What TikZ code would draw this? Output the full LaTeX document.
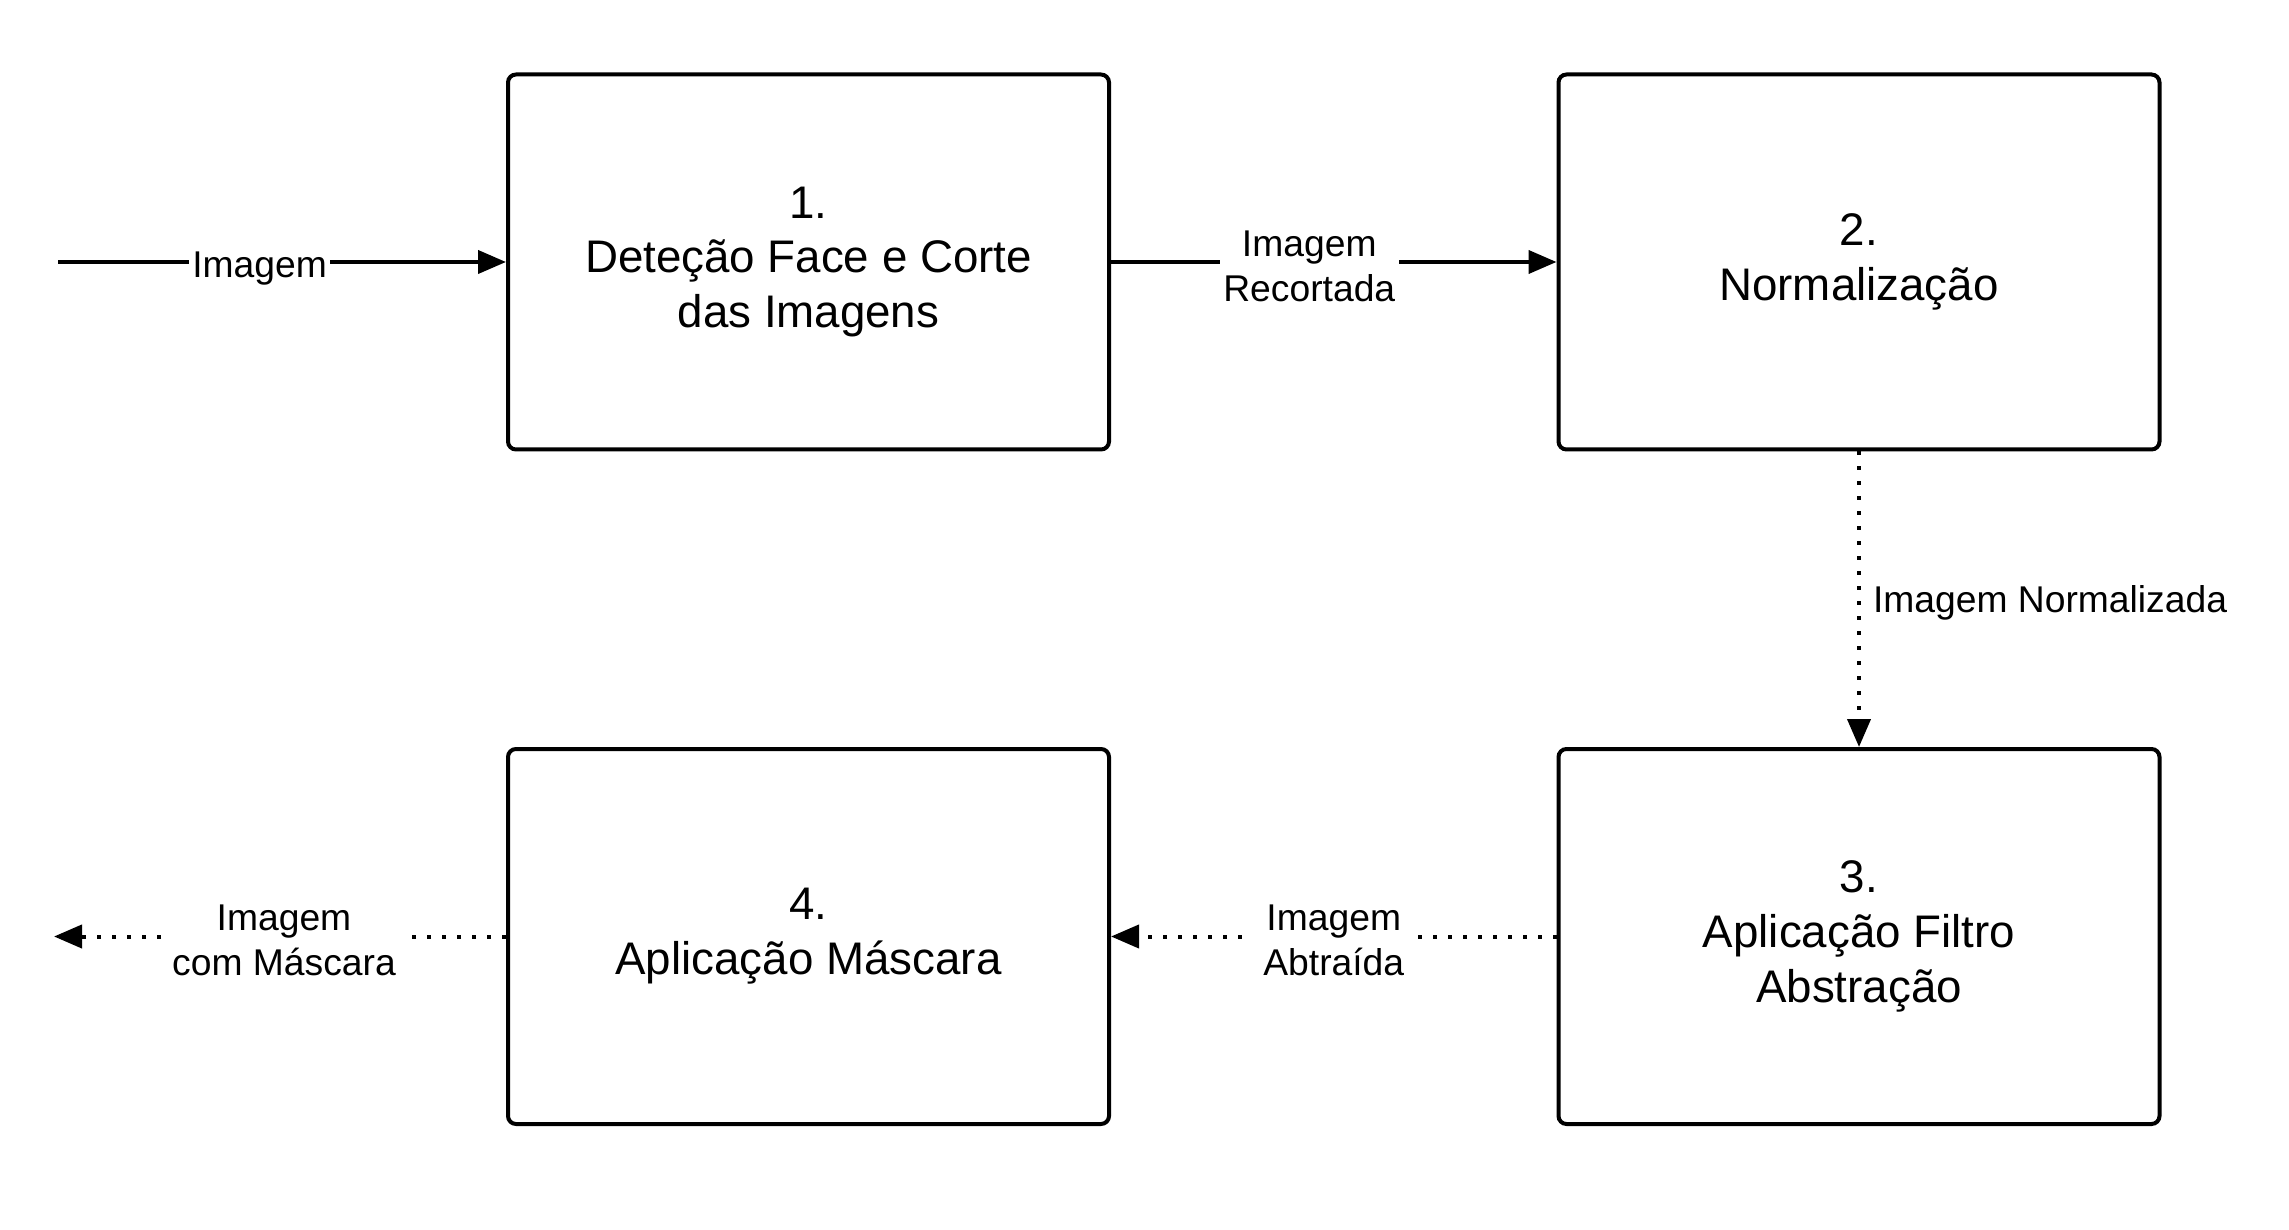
\documentclass[tikz,border=0pt]{standalone}
\usepackage{fontspec}
\setmainfont{Liberation Sans}
\usetikzlibrary{arrows.meta}

\begin{document}
\begin{tikzpicture}[>={Triangle[length=0.28cm,width=0.23cm]}]
	\useasboundingbox (0,0) rectangle (22.89,12.29);
	\begin{scope}[every node/.style={rectangle,rounded corners=0.08cm,draw,line width=0.04cm,minimum width=6.01cm,minimum height=3.75cm,align=center,font=\fontsize{13}{15.6}\selectfont}]
		\node (A) at (8.085,9.67) {1.\\Deteção Face e Corte\\das Imagens};
		\node (B) at (18.59,9.67) {2.\\Normalização};
		\node (C) at (18.59,2.925) {3.\\Aplicação Filtro\\Abstração};
		\node (D) at (8.085,2.925) {4.\\Aplicação Máscara};
	\end{scope}
	
	\coordinate (I) at (0.58,9.67);
	\coordinate (O) at (0.54,2.925);
	
	\begin{scope}[every edge/.style={draw=black,line width=0.04cm},
		every node/.style={fill=white,inner sep=1pt,align=center,yshift=-0.04cm,font=\fontsize{10.6}{12.8}\selectfont},
		pontos/.style={dash pattern=on 0.04cm off 0.11cm}]
		\path [->] (I) edge node [pos=0.45,yshift=-0.03cm] {Imagem} (A);
		\path [->] (A) edge node [pos=0.445] {Imagem\\Recortada} (B);
		\path [->] (B) edge [pontos] node [right,fill=none,inner sep=0.12cm] {Imagem Normalizada} (C);
		\path [->] (C) edge [pontos] node [inner sep=3pt] {Imagem\\Abtraída} (D);
		\path [->] (D) edge [pontos] node [inner sep=3pt,xshift=0.04cm] {Imagem\\com Máscara} (O);
	\end{scope}
\end{tikzpicture}
\end{document}
